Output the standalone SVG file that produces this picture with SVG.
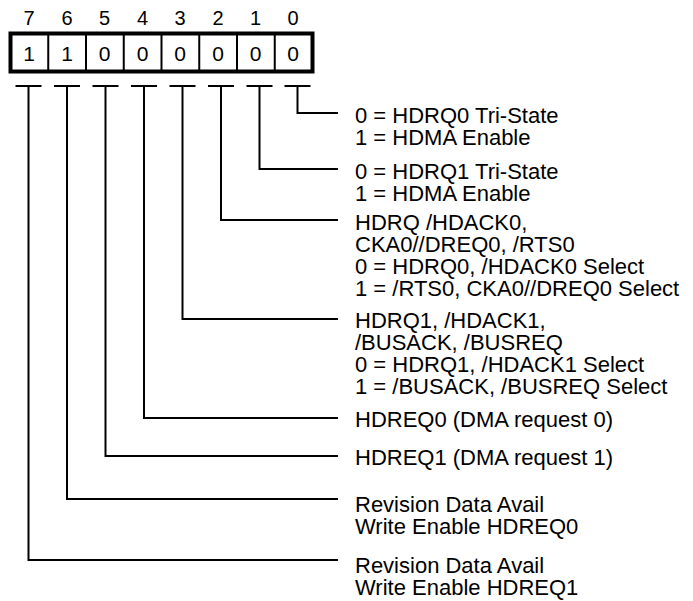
<svg xmlns="http://www.w3.org/2000/svg" width="693" height="601" viewBox="0 0 693 601">
<style>
text { font-family: "Liberation Sans", Arial, sans-serif; font-size: 22px; fill: #000; }
.c { text-anchor: middle; font-size: 20px; }
.v { text-anchor: middle; font-size: 21px; }
.ln { fill: none; stroke: #000; stroke-width: 2; }
.box { fill: #fff; stroke: #000; stroke-width: 4; }
</style>
<rect width="693" height="601" fill="#fff"/>
<g id="register">
  <g id="bitnums">
    <text class="c" x="29" y="25">7</text>
    <text class="c" x="67" y="25">6</text>
    <text class="c" x="104.5" y="25">5</text>
    <text class="c" x="142.5" y="25">4</text>
    <text class="c" x="180" y="25">3</text>
    <text class="c" x="218" y="25">2</text>
    <text class="c" x="255.5" y="25">1</text>
    <text class="c" x="293" y="25">0</text>
  </g>
  <rect class="box" x="10.5" y="33.5" width="302" height="38"/>
  <path class="ln" d="M48.25 33.5V71.5M86 33.5V71.5M123.75 33.5V71.5M161.5 33.5V71.5M199.25 33.5V71.5M237 33.5V71.5M274.75 33.5V71.5"/>
  <text class="v" x="29" y="60.5">1</text>
  <text class="v" x="67" y="60.5">1</text>
  <text class="v" x="104.5" y="60.5">0</text>
  <text class="v" x="142.5" y="60.5">0</text>
  <text class="v" x="180" y="60.5">0</text>
  <text class="v" x="218" y="60.5">0</text>
  <text class="v" x="255.5" y="60.5">0</text>
  <text class="v" x="293" y="60.5">0</text>
</g>
<g id="connectors">
  <path class="ln" d="M284.5 86H310.5M297.5 86V113H338"/>
  <path class="ln" d="M246.5 86H272.5M259.5 86V169H338"/>
  <path class="ln" d="M208 86H234M221 86V220H338"/>
  <path class="ln" d="M169.5 86H195.5M182.5 86V319H338"/>
  <path class="ln" d="M131 86H157M144 86V418H338"/>
  <path class="ln" d="M92.5 86H118.5M105.5 86V456H338"/>
  <path class="ln" d="M54 86H80M67 86V499H338"/>
  <path class="ln" d="M15.5 86H41.5M28.5 86V560H338"/>
</g>
<g id="bit0">
  <text x="355" y="123">0 = HDRQ0 Tri-State</text>
  <text x="355" y="145">1 = HDMA Enable</text>
</g>
<g id="bit1">
  <text x="355" y="179">0 = HDRQ1 Tri-State</text>
  <text x="355" y="201">1 = HDMA Enable</text>
</g>
<g id="bit2">
  <text x="355" y="230">HDRQ /HDACK0,</text>
  <text x="355" y="252">CKA0//DREQ0, /RTS0</text>
  <text x="355" y="274">0 = HDRQ0, /HDACK0 Select</text>
  <text x="355" y="296">1 = /RTS0, CKA0//DREQ0 Select</text>
</g>
<g id="bit3">
  <text x="355" y="328">HDRQ1, /HDACK1,</text>
  <text x="355" y="350">/BUSACK, /BUSREQ</text>
  <text x="355" y="372">0 = HDRQ1, /HDACK1 Select</text>
  <text x="355" y="394">1 = /BUSACK, /BUSREQ Select</text>
</g>
<g id="bit4">
  <text x="355" y="427">HDREQ0 (DMA request 0)</text>
</g>
<g id="bit5">
  <text x="355" y="465">HDREQ1 (DMA request 1)</text>
</g>
<g id="bit6">
  <text x="355" y="511.5">Revision Data Avail</text>
  <text x="355" y="533.5">Write Enable HDREQ0</text>
</g>
<g id="bit7">
  <text x="355" y="572.5">Revision Data Avail</text>
  <text x="355" y="594.5">Write Enable HDREQ1</text>
</g>
</svg>
